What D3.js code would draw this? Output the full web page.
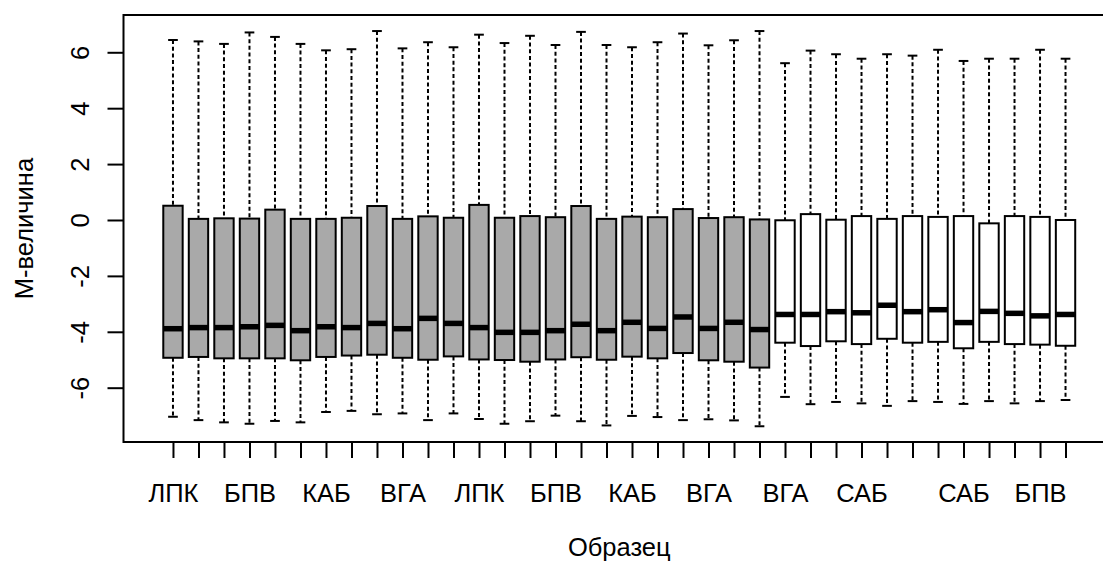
<!DOCTYPE html>
<html>
<head>
<meta charset="utf-8">
<script src="https://cdn.jsdelivr.net/npm/d3@7"></script>
<style>
  html, body { margin: 0; padding: 0; background: #fff; }
  svg { display: block; }
  text { font-family: "Liberation Sans", Arial, sans-serif; fill: #000; }
</style>
</head>
<body>
<svg id="chart" width="1103" height="565"></svg>
<script>
// ---- data ----
const tickLabels = [
  "ЛПК","","","БПВ","","","КАБ","","","ВГА","","","ЛПК","","","БПВ","","","КАБ","","","ВГА","","",
  "ВГА","","","САБ","","","","САБ","","","БПВ",""
];
const groups = [
  "A","A","A","A","A","A","A","A","A","A","A","A","A","A","A","A","A","A","A","A","A","A","A","A",
  "B","B","B","B","B","B","B","B","B","B","B","B"
];
const whiskerHigh = [6.44,6.39,6.30,6.71,6.55,6.30,6.07,6.11,6.76,6.14,6.36,6.18,6.63,6.33,6.59,6.26,6.73,6.26,
  6.18,6.36,6.67,6.25,6.43,6.76, 5.61,6.06,5.93,5.77,5.93,5.88,6.09,5.69,5.77,5.77,6.09,5.77];
const q3 = [0.51,0.04,0.06,0.05,0.37,0.04,0.04,0.08,0.50,0.04,0.13,0.08,0.54,0.08,0.14,0.10,0.50,0.04,
  0.12,0.10,0.39,0.07,0.10,0.02, -0.01,0.21,0.01,0.14,0.04,0.14,0.11,0.14,-0.12,0.14,0.11,0.00];
const median = [-3.89,-3.85,-3.85,-3.82,-3.77,-3.96,-3.82,-3.85,-3.70,-3.89,-3.52,-3.70,-3.85,-4.02,-4.02,-3.96,-3.73,-3.96,
  -3.66,-3.88,-3.47,-3.88,-3.66,-3.92, -3.38,-3.38,-3.28,-3.32,-3.05,-3.28,-3.21,-3.67,-3.27,-3.34,-3.43,-3.38];
const q1 = [-4.93,-4.90,-4.95,-4.95,-4.95,-5.02,-4.90,-4.85,-4.82,-4.93,-5.00,-4.88,-4.99,-5.01,-5.07,-4.99,-4.91,-5.00,
  -4.89,-4.95,-4.76,-5.02,-5.07,-5.28, -4.39,-4.51,-4.34,-4.44,-4.25,-4.39,-4.36,-4.59,-4.36,-4.44,-4.46,-4.50];
const whiskerLow = [-7.04,-7.16,-7.24,-7.29,-7.19,-7.24,-6.87,-6.83,-6.95,-6.92,-7.16,-6.92,-7.12,-7.29,-7.20,-7.00,-7.20,-7.35,
  -7.01,-7.05,-7.16,-7.13,-7.17,-7.38, -6.33,-6.59,-6.51,-6.56,-6.65,-6.48,-6.51,-6.58,-6.48,-6.56,-6.48,-6.44];
const yTicks = [-6,-4,-2,0,2,4,6];
const yTitle = "М-величина";
const xTitle = "Образец";

// ---- layout ----
const svg = d3.select("#chart");
const nBox = tickLabels.length;
const pLeft = 123.5, pRight = 1115, pTop = 15, pBottom = 442;
const fontSize = 25.5;
const x = d3.scaleLinear().domain([-0.94, nBox + 1.94]).range([pLeft, pRight]);
const y = d3.scaleLinear().domain([-7.943, 7.334]).range([pBottom, pTop]);
const color = d3.scaleOrdinal().domain(["A","B"]).range(["#A9A9A9","#FFFFFF"]);
const step = x(2) - x(1);
const bw = step * 0.76;
const capw = bw * 0.5;
const dash = "4,2.7";

svg.append("rect").attr("width",1103).attr("height",565).attr("fill","#fff");

const boxes = d3.range(nBox).map(i => ({
  i: i + 1, hi: whiskerHigh[i], q3: q3[i], med: median[i], q1: q1[i], lo: whiskerLow[i], g: groups[i]
}));

const gMain = svg.append("g");
const bx = gMain.selectAll("g.box").data(boxes).join("g").attr("class","box");

// whiskers (dashed)
bx.append("line")
  .attr("x1", d => x(d.i)).attr("x2", d => x(d.i))
  .attr("y1", d => y(d.hi)).attr("y2", d => y(d.q3))
  .attr("stroke","#000").attr("stroke-width",2).attr("stroke-dasharray",dash);
bx.append("line")
  .attr("x1", d => x(d.i)).attr("x2", d => x(d.i))
  .attr("y1", d => y(d.q1)).attr("y2", d => y(d.lo))
  .attr("stroke","#000").attr("stroke-width",2).attr("stroke-dasharray",dash);
// caps
bx.append("line")
  .attr("x1", d => x(d.i) - capw/2).attr("x2", d => x(d.i) + capw/2)
  .attr("y1", d => y(d.hi)).attr("y2", d => y(d.hi))
  .attr("stroke","#000").attr("stroke-width",2);
bx.append("line")
  .attr("x1", d => x(d.i) - capw/2).attr("x2", d => x(d.i) + capw/2)
  .attr("y1", d => y(d.lo)).attr("y2", d => y(d.lo))
  .attr("stroke","#000").attr("stroke-width",2);
// boxes
bx.append("rect")
  .attr("x", d => x(d.i) - bw/2).attr("width", bw)
  .attr("y", d => y(d.q3)).attr("height", d => y(d.q1) - y(d.q3))
  .attr("fill", d => color(d.g)).attr("stroke","#000").attr("stroke-width",2);
// medians
bx.append("line")
  .attr("x1", d => x(d.i) - bw/2).attr("x2", d => x(d.i) + bw/2)
  .attr("y1", d => y(d.med)).attr("y2", d => y(d.med))
  .attr("stroke","#000").attr("stroke-width",5.5);

// frame
svg.append("rect").attr("x",pLeft).attr("y",pTop).attr("width",pRight-pLeft).attr("height",pBottom-pTop)
  .attr("fill","none").attr("stroke","#000").attr("stroke-width",2);

// x axis
const xAxis = d3.axisBottom(x).tickValues(d3.range(1, nBox + 1)).tickSize(16).tickPadding(0)
  .tickFormat(d => tickLabels[d - 1]);
const xa = svg.append("g").attr("transform", `translate(0,${pBottom})`).call(xAxis);
xa.select(".domain").remove();
xa.selectAll(".tick line").attr("stroke","#000").attr("stroke-width",2);
xa.selectAll(".tick text").attr("font-size",fontSize).attr("font-family","Liberation Sans, Arial, sans-serif")
  .attr("fill","#000").attr("dy",null).attr("y",60);

// y axis
const yAxis = d3.axisLeft(y).tickValues(yTicks).tickSize(16).tickFormat(d => String(d));
const ya = svg.append("g").attr("transform", `translate(${pLeft},0)`).call(yAxis);
ya.select(".domain").remove();
ya.selectAll(".tick line").attr("stroke","#000").attr("stroke-width",2);
ya.selectAll(".tick text").attr("font-size",fontSize).attr("font-family","Liberation Sans, Arial, sans-serif")
  .attr("fill","#000").attr("x",null).attr("dy",null)
  .attr("text-anchor","middle")
  .attr("transform","translate(-35,0) rotate(-90)");

// titles
svg.append("text").attr("x", (pLeft + pRight) / 2).attr("y", 556)
  .attr("text-anchor","middle").attr("font-size",fontSize).text(xTitle);
svg.append("text").attr("transform", `translate(33,${(pTop + pBottom) / 2}) rotate(-90)`)
  .attr("text-anchor","middle").attr("font-size",fontSize).text(yTitle);
</script>
</body>
</html>
